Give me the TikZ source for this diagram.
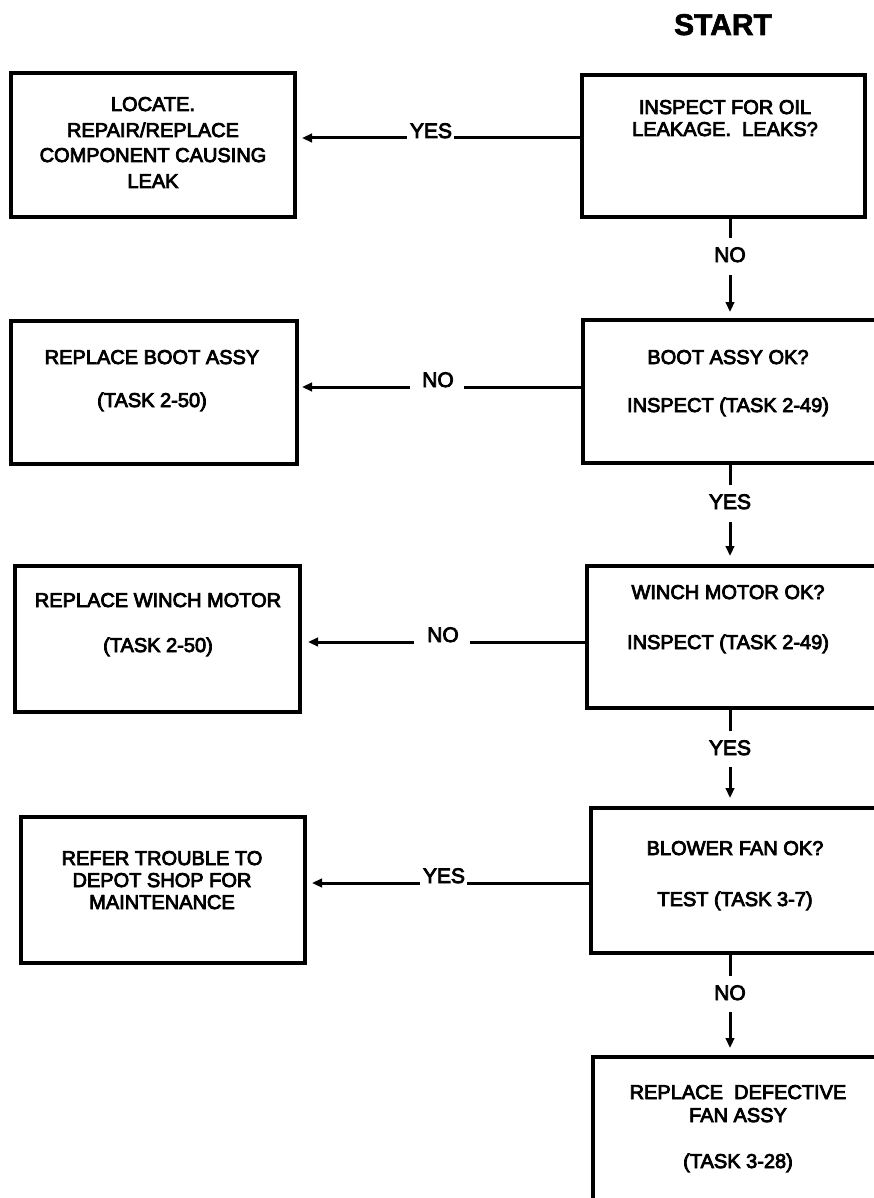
\documentclass[tikz,border=0pt]{standalone}
\usepackage{fontspec}
\usetikzlibrary{arrows.meta}
\newfontfamily\boxfont{Liberation Sans}[FakeBold=4]
\newfontfamily\headfont{Liberation Sans}[FakeBold=2]
\begin{document}
\begin{tikzpicture}[x=1pt,y=-1pt,
  box/.style={draw, line width=3.2pt, rectangle, inner sep=0pt, outer sep=0pt, anchor=north west},
  txt/.style={font=\boxfont\fontsize{20}{24}\selectfont, inner sep=0pt, anchor=base},
  lbl/.style={font=\boxfont\fontsize{21}{25}\selectfont, inner sep=0pt, anchor=base},
  conn/.style={line width=3pt},
  arr/.style={conn, -{Triangle[length=10pt,width=8.5pt]}}]

% page
\fill[white] (0,0) rectangle (873,1198);
\useasboundingbox (0,0) rectangle (873,1198);

% title
\node[font=\headfont\bfseries\fontsize{30}{36}\selectfont, inner sep=0pt, anchor=base] (start) at (723,35) {START};

% boxes
\node[box, minimum width=284pt, minimum height=144pt] (L1) at (11,73) {};
\node[box, minimum width=283pt, minimum height=142pt] (R1) at (582,75) {};
\node[box, minimum width=286pt, minimum height=143pt] (L2) at (11,321) {};
\node[box, minimum width=310pt, minimum height=143pt] (R2) at (583,320) {};
\node[box, minimum width=285pt, minimum height=146pt] (L3) at (15,566) {};
\node[box, minimum width=310pt, minimum height=142pt] (R3) at (587,566) {};
\node[box, minimum width=284pt, minimum height=146pt] (L4) at (21,817) {};
\node[box, minimum width=310pt, minimum height=145pt] (R4) at (591,808) {};
\node[box, minimum width=310pt, minimum height=175pt] (R5) at (593,1057) {};

% box texts
\node[txt] (t1a) at (153,111) {LOCATE.};
\node[txt] (t1b) at (153,137) {REPAIR/REPLACE};
\node[txt] (t1c) at (153,162) {COMPONENT CAUSING};
\node[txt] (t1d) at (153,188) {LEAK};

\node[txt] (s1a) at (725,114) {INSPECT FOR OIL};
\node[txt] (s1b) at (725,136) {LEAKAGE.\ \ LEAKS?};

\node[txt] (t2a) at (152,364) {REPLACE BOOT ASSY};
\node[txt] (t2b) at (152,407) {(TASK 2-50)};

\node[txt] (s2a) at (728,364) {BOOT ASSY OK?};
\node[txt] (s2b) at (728,412) {INSPECT (TASK 2-49)};

\node[txt] (t3a) at (158,607) {REPLACE WINCH MOTOR};
\node[txt] (t3b) at (158,652) {(TASK 2-50)};

\node[txt] (s3a) at (728,599) {WINCH MOTOR OK?};
\node[txt] (s3b) at (728,649) {INSPECT (TASK 2-49)};

\node[txt] (t4a) at (162,865) {REFER TROUBLE TO};
\node[txt] (t4b) at (162,887) {DEPOT SHOP FOR};
\node[txt] (t4c) at (162,909) {MAINTENANCE};

\node[txt] (s4a) at (735,855) {BLOWER FAN OK?};
\node[txt] (s4b) at (735,906) {TEST (TASK 3-7)};

\node[txt] (s5a) at (738,1099) {REPLACE\ \ DEFECTIVE};
\node[txt] (s5b) at (738,1122) {FAN ASSY};
\node[txt] (s5c) at (738,1168) {(TASK 3-28)};

% branch labels
\node[lbl] (v1) at (730,262) {NO};
\node[lbl] (v2) at (730,509) {YES};
\node[lbl] (v3) at (730,755) {YES};
\node[lbl] (v4) at (730,1000) {NO};

\node[lbl] (h1) at (431,138) {YES};
\node[lbl] (h2) at (438,387) {NO};
\node[lbl] (h3) at (443,642) {NO};
\node[lbl] (h4) at (444,883) {YES};

% vertical connectors
\draw[conn, shorten >=9pt] (R1.south -| v1) -- (v1.north);
\draw[arr, shorten <=13pt, shorten >=8pt] (v1.south) -- (R2.north -| v1);
\draw[conn, shorten >=9pt] (R2.south -| v2) -- (v2.north);
\draw[arr, shorten <=13pt, shorten >=10pt] (v2.south) -- (R3.north -| v2);
\draw[conn, shorten >=9pt] (R3.south -| v3) -- (v3.north);
\draw[arr, shorten <=12pt, shorten >=10pt] (v3.south) -- (R4.north -| v3);
\draw[conn, shorten >=9pt] (R4.south -| v4) -- (v4.north);
\draw[arr, shorten <=12pt, shorten >=9pt] (v4.south) -- (R5.north -| v4);

% horizontal connectors
\draw[conn, shorten >=2pt] (R1.west |- h1.base) -- (h1.base east);
\draw[arr, shorten <=3pt, shorten >=7pt] (h1.base west) -- (L1.east |- h1.base);
\draw[conn, shorten >=10pt] (R2.west |- h2.base) -- (h2.base east);
\draw[arr, shorten <=12pt, shorten >=5pt] (h2.base west) -- (L2.east |- h2.base);
\draw[conn, shorten >=11pt] (R3.west |- h3.base) -- (h3.base east);
\draw[arr, shorten <=13pt, shorten >=8pt] (h3.base west) -- (L3.east |- h3.base);
\draw[conn, shorten >=2pt] (R4.west |- h4.base) -- (h4.base east);
\draw[arr, shorten <=3pt, shorten >=7pt] (h4.base west) -- (L4.east |- h4.base);
\end{tikzpicture}
\end{document}
